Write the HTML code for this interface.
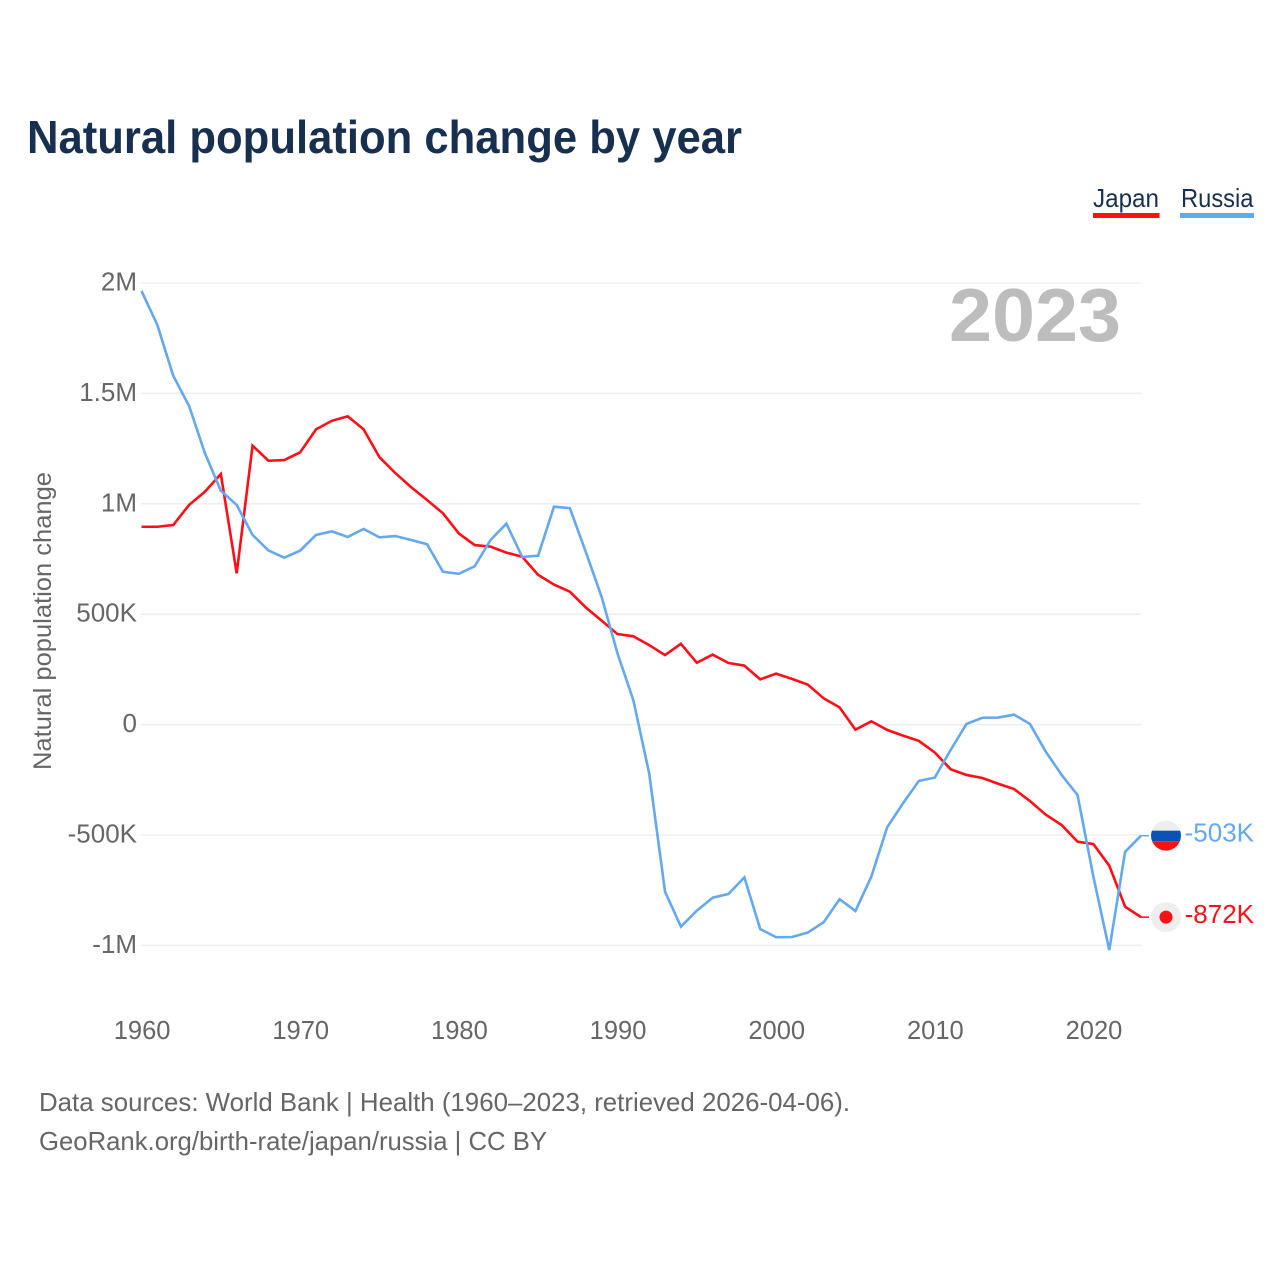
<!DOCTYPE html>
<html lang="en">
<head>
<meta charset="utf-8">
<title>Natural population change by year</title>
<style>
html,body{margin:0;padding:0;background:#fff;}
svg{display:block;}
text{font-family:"Liberation Sans",sans-serif;}
</style>
</head>
<body>
<svg id="chart" xmlns="http://www.w3.org/2000/svg" width="1280" height="1280" viewBox="0 0 1280 1280">
  <rect width="1280" height="1280" fill="#ffffff"/>
  <text x="27" y="153" font-size="46" font-weight="700" fill="#18304f" textLength="715" lengthAdjust="spacingAndGlyphs">Natural population change by year</text>

  <g>
    <text x="1093" y="207" font-size="26" fill="#18304f" textLength="66" lengthAdjust="spacingAndGlyphs">Japan</text>
    <rect x="1093" y="213" width="66.5" height="5" fill="#ff0f17"/>
  </g>
  <g>
    <text x="1181" y="207" font-size="26" fill="#18304f" textLength="72.5" lengthAdjust="spacingAndGlyphs">Russia</text>
    <rect x="1180" y="213" width="74" height="5" fill="#64a8ee"/>
  </g>

  <text transform="translate(51,770) rotate(-90)" font-size="25" fill="#666666" textLength="298" lengthAdjust="spacingAndGlyphs">Natural population change</text>

  <g id="grid"></g>
  <g id="yticks"></g>
  <g id="xticks"></g>

  <text x="1121" y="341" text-anchor="end" font-size="75" font-weight="700" fill="#bdbdbd" textLength="172" lengthAdjust="spacingAndGlyphs">2023</text>

  <g id="series"></g>
  <g id="ends"></g>

  <text x="39" y="1111" font-size="26" fill="#666666" textLength="811" lengthAdjust="spacingAndGlyphs">Data sources: World Bank | Health (1960–2023, retrieved 2026-04-06).</text>
  <text x="39" y="1150" font-size="26" fill="#666666" textLength="508" lengthAdjust="spacingAndGlyphs">GeoRank.org/birth-rate/japan/russia | CC BY</text>
</svg>
<script>
const startYear = 1960;
const endYear = 2023;
const xTickYears = [1960, 1970, 1980, 1990, 2000, 2010, 2020];
const yTickValues = [2000, 1500, 1000, 500, 0, -500, -1000];
const yTickLabels = ['2M', '1.5M', '1M', '500K', '0', '-500K', '-1M'];
const japanValues = [
  896, 896, 904, 995, 1055, 1135, 685, 1263, 1195, 1198,
  1233, 1337, 1376, 1396, 1337, 1211, 1139, 1075, 1017, 957,
  866, 813, 806, 779, 760, 678, 634, 602, 531, 471,
  410, 400, 360, 315, 366, 280, 317, 279, 267, 205,
  231, 207, 181, 119, 78, -23, 15, -24, -50, -74,
  -126, -202, -228, -242, -268, -292, -346, -408, -455, -530,
  -541, -639, -825, -872
];
const russiaValues = [
  1964, 1810, 1580, 1443, 1229, 1059, 995, 859, 789, 756,
  788, 859, 875, 850, 886, 848, 854, 836, 817, 692,
  683, 717, 836, 910, 759, 765, 987, 980, 783, 579,
  323, 111, -221, -757, -915, -843, -784, -767, -692, -926,
  -963, -962, -942, -895, -791, -844, -689, -465, -356, -255,
  -240, -115, 3, 31, 32, 45, 3, -123, -228, -319,
  -689, -1021, -576, -503
];

const SVG_NS = 'http://www.w3.org/2000/svg';
function xScale(year) { return 141.5 + (year - startYear) * (1141 - 141.5) / (endYear - startYear); }
function yScale(v) { return 724.6 - v * 0.2208; }
function formatValue(v) { return (v / 1).toFixed(0) + 'K'; }
function make(tag, parent, attrs, text) {
  const el = document.createElementNS(SVG_NS, tag);
  for (const k in attrs) el.setAttribute(k, attrs[k]);
  if (text !== undefined) el.textContent = text;
  parent.appendChild(el);
  return el;
}

const grid = document.getElementById('grid');
const yticks = document.getElementById('yticks');
const xticks = document.getElementById('xticks');
const seriesGroup = document.getElementById('series');
const ends = document.getElementById('ends');

yTickValues.forEach(function (v, i) {
  const line = make('line', grid, { x1: 141, x2: 1141, y1: yScale(v), y2: yScale(v), stroke: '#eeeeee', 'stroke-width': 1.5 });
  
  
  const label = make('text', yticks, { x: 137, y: yScale(v) + 7.5, 'text-anchor': 'end', 'font-size': 26, fill: '#666666' }, yTickLabels[i]);
  
  
});

xTickYears.forEach(function (yr) {
  const label = make('text', xticks, { x: xScale(yr) + 0.6, y: 1039, 'text-anchor': 'middle', 'font-size': 25.5, fill: '#666666' }, String(yr));
  
  
});

function linePoints(values) {
  return values.map(function (v, i) { return xScale(startYear + i).toFixed(2) + ',' + yScale(v).toFixed(2); }).join(' ');
}

const japanLine = make('polyline', seriesGroup, { points: linePoints(japanValues), fill: 'none', stroke: '#ff0f17', 'stroke-width': 2.6, 'stroke-linejoin': 'miter' });



const russiaLine = make('polyline', seriesGroup, { points: linePoints(russiaValues), fill: 'none', stroke: '#64a8ee', 'stroke-width': 2.6, 'stroke-linejoin': 'miter' });



const markerX = 1166;
const defs = make('defs', ends, {});
const jpY = yScale(japanValues[japanValues.length - 1]);
const ruY = yScale(russiaValues[russiaValues.length - 1]);
const clip = make('clipPath', defs, { id: 'ru-clip' });
make('circle', clip, { cx: markerX, cy: ruY, r: 15 });

const jpStub = make('line', ends, { x1: xScale(endYear), x2: markerX - 17, y1: jpY, y2: jpY, stroke: '#ff0f17', 'stroke-width': 1.5 });


const ruStub = make('line', ends, { x1: xScale(endYear), x2: markerX - 17, y1: ruY, y2: ruY, stroke: '#64a8ee', 'stroke-width': 1.5 });



const ruFlag = make('g', ends, { 'clip-path': 'url(#ru-clip)' });


make('rect', ruFlag, { x: markerX - 15, y: ruY - 15, width: 30, height: 10, fill: '#eeeeee' });
make('rect', ruFlag, { x: markerX - 15, y: ruY - 5, width: 30, height: 10.5, fill: '#0a52b5' });
make('rect', ruFlag, { x: markerX - 15, y: ruY + 5.5, width: 30, height: 10, fill: '#ff0f17' });

const jpFlag = make('g', ends, {});


make('circle', jpFlag, { cx: markerX, cy: jpY, r: 15, fill: '#eeeeee' });
make('circle', jpFlag, { cx: markerX, cy: jpY, r: 6.5, fill: '#ff0f17' });

const ruLabel = make('text', ends, { x: 1254, y: ruY + 6, 'text-anchor': 'end', 'font-size': 26, fill: '#64a8ee' }, formatValue(russiaValues[russiaValues.length - 1]));


const jpLabel = make('text', ends, { x: 1254, y: jpY + 6, 'text-anchor': 'end', 'font-size': 26, fill: '#ff0f17' }, formatValue(japanValues[japanValues.length - 1]));


</script>
</body>
</html>
